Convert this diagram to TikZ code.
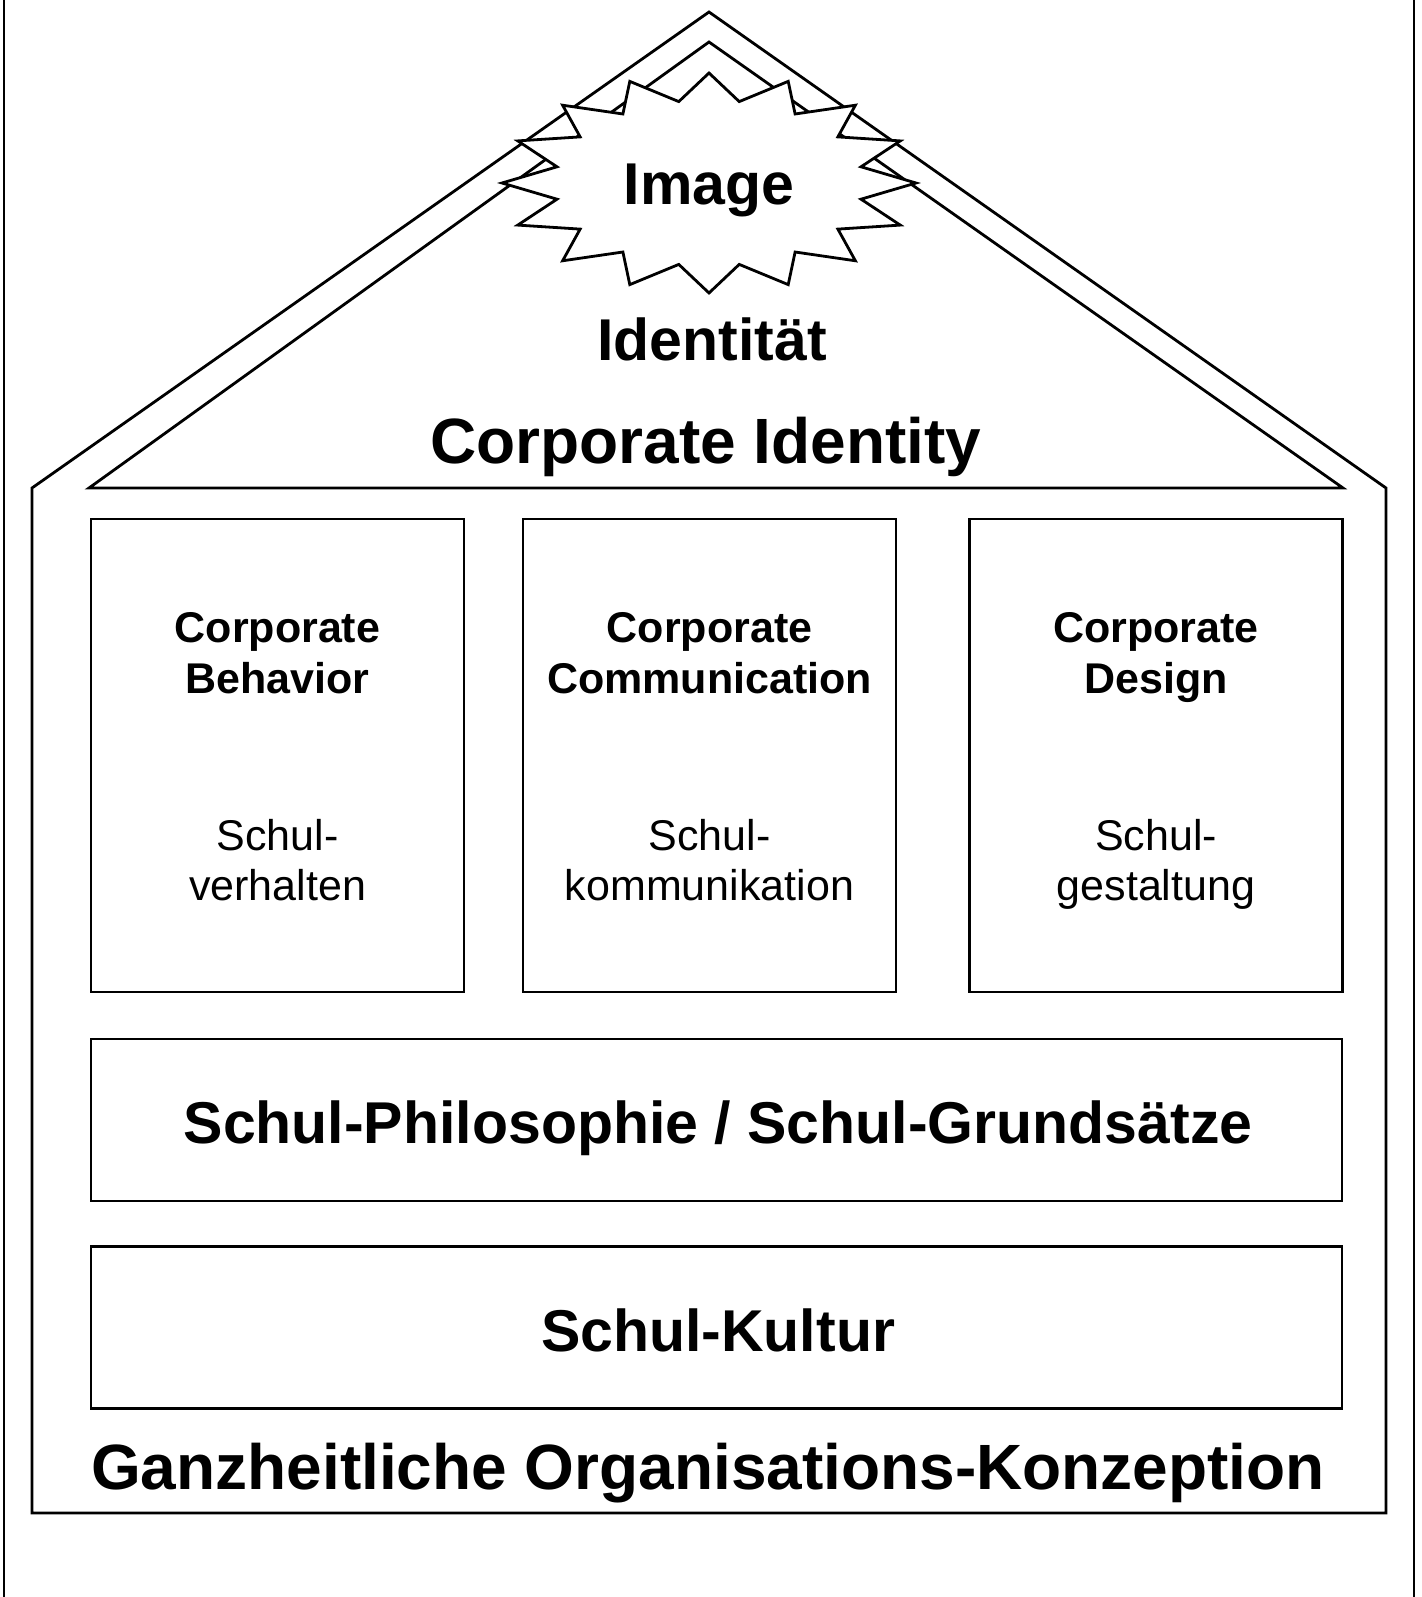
\documentclass[tikz,border=0pt]{standalone}
\usepackage{fontspec}
\setmainfont{Liberation Sans}
\usetikzlibrary{positioning}

\begin{document}
\begin{tikzpicture}[x=1pt,y=-1pt,line width=2.8pt,line join=miter,
  pillar/.style={draw,inner sep=0pt,minimum width=373pt,minimum height=473pt},
  layer/.style={draw,inner sep=0pt,minimum width=1251pt,minimum height=162pt},
  big/.style={font=\fontsize{64}{76}\selectfont\bfseries,anchor=base},
  mid/.style={font=\fontsize{59}{70}\selectfont\bfseries,anchor=base},
  head/.style={font=\fontsize{43}{51}\selectfont\bfseries,align=center,anchor=base},
  sub/.style={font=\fontsize{43}{50}\selectfont,align=center,anchor=base}]
  \useasboundingbox (0,0) rectangle (1421,1597);
  \draw (4,0) -- (4,1597);
  \draw (1414,0) -- (1414,1597);
  \draw (32,1513) -- (32,488) -- (709,12) -- (1386,488) -- (1386,1513) -- cycle;
  \draw (89,488) -- (709,42) -- (1343,488) -- cycle;
  \begin{scope}[shift={(709,183)}]
    \draw[fill=white] (0:207 and 110)
      \foreach \a in {0,22.5,...,337.5} { -- (\a:207 and 110) -- (\a+11.25:155 and 83) } -- cycle;
  \end{scope}
  \node[mid] (image) at (709,205) {Image};
  \node[mid] (ident) at (712,360) {Identität};
  \node[big] (ci) at (706,463) {Corporate Identity};

  \node[pillar] (behav) at (277.5,755.5) {};
  \node[pillar] (comm) at (709.5,755.5) {};
  \node[pillar] (design) at (1156,755.5) {};
  \node[head] (behavT) at (277.5,693) {Corporate\\Behavior};
  \node[head] (commT) at (709.5,693) {Corporate\\Communication};
  \node[head] (designT) at (1156,693) {Corporate\\Design};
  \node[sub] (behavS) at (277.5,900) {Schul-\\verhalten};
  \node[sub] (commS) at (709.5,900) {Schul-\\kommunikation};
  \node[sub] (designS) at (1156,900) {Schul-\\gestaltung};

  \node[layer] (philo) at (716.5,1120) {};
  \node[mid] (philoT) at (718,1143) {Schul-Philosophie / Schul-Grundsätze};
  \node[layer] (kultur) at (716.5,1327.5) {};
  \node[mid] (kulturT) at (718,1351) {Schul-Kultur};
  \node[big] (ganz) at (708,1489) {Ganzheitliche Organisations-Konzeption};
\end{tikzpicture}
\end{document}
